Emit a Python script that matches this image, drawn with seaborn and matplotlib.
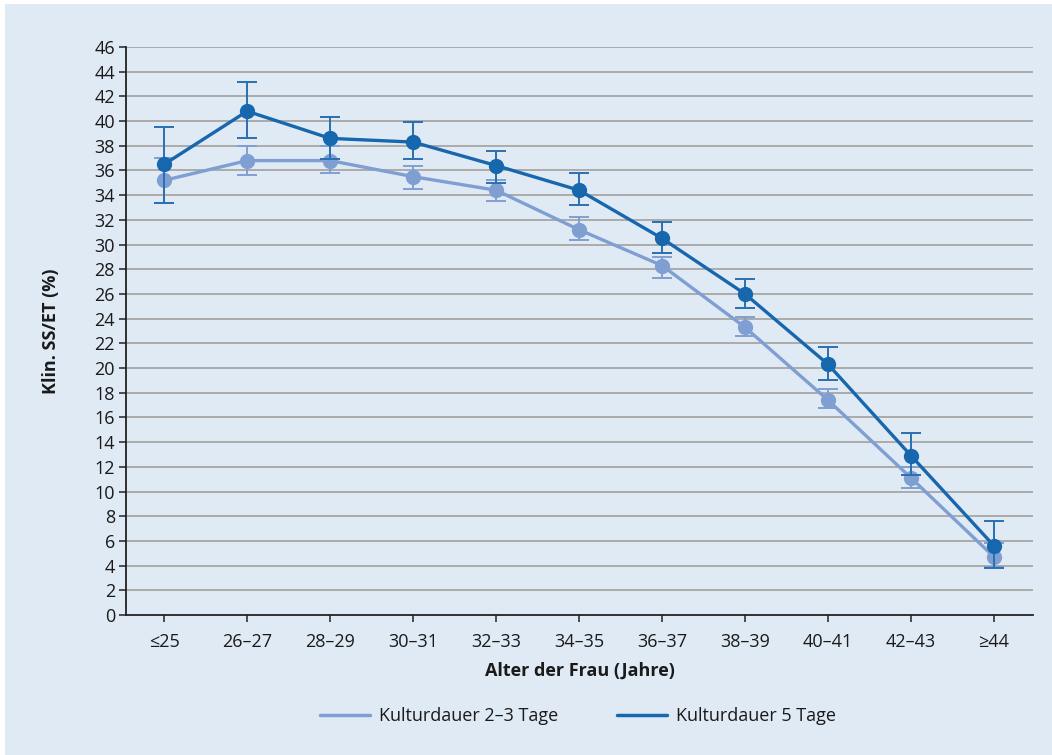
import numpy as np
import pandas as pd
import matplotlib
matplotlib.use("Agg")
import matplotlib.pyplot as plt
from matplotlib.lines import Line2D
from matplotlib.patches import Rectangle
import seaborn as sns

# Age groups of the women
age_groups = ["≤25", "26–27", "28–29", "30–31", "32–33", "34–35",
              "36–37", "38–39", "40–41", "42–43", "≥44"]

# Clinical pregnancy rate per embryo transfer (%), culture 2–3 days
rate_short = [35.2, 36.8, 36.8, 35.5, 34.4, 31.2, 28.3, 23.3, 17.4, 11.1, 4.7]
low_short = [33.4, 35.6, 35.8, 34.5, 33.5, 30.4, 27.3, 22.6, 16.8, 10.3, 3.9]
high_short = [37.0, 38.0, 38.0, 36.4, 35.2, 32.2, 29.0, 24.1, 18.3, 12.0, 5.8]

# Clinical pregnancy rate per embryo transfer (%), culture 5 days
rate_long = [36.5, 40.8, 38.6, 38.3, 36.4, 34.4, 30.5, 26.0, 20.3, 12.9, 5.6]
low_long = [33.4, 38.6, 36.9, 36.9, 35.0, 33.2, 29.3, 24.9, 19.0, 11.3, 3.8]
high_long = [39.5, 43.2, 40.3, 39.9, 37.6, 35.8, 31.8, 27.2, 21.7, 14.7, 7.6]

series_names = ["Kulturdauer 2–3 Tage", "Kulturdauer 5 Tage"]
colors = ["#7f9fd3", "#1767ae"]
bar_colors = ["#7f9fd3", "#2a6fb2"]

bg = "#e0eaf4"
font = ["Open Sans", "DejaVu Sans"]
fs = 13

sns.set_theme(style="white")
plt.rcParams["font.family"] = font

pos = np.arange(len(age_groups))
df = pd.concat([
    pd.DataFrame({"pos": pos, "rate": rate_short, "serie": series_names[0]}),
    pd.DataFrame({"pos": pos, "rate": rate_long, "serie": series_names[1]}),
])

fig = plt.figure(figsize=(10.52, 7.55), dpi=100, facecolor="white")
fig.patches.append(Rectangle((5 / 1052, 0), 1, 1 - 4 / 755, transform=fig.transFigure,
                             facecolor=bg, edgecolor="none", zorder=-10))
ax = fig.add_axes([126 / 1052, 1 - 615 / 755, (1033 - 126) / 1052, (615 - 47) / 755])
ax.set_facecolor(bg)

# horizontal grid
for v in range(2, 47, 2):
    ax.axhline(v, color="#ababab", lw=1.4, zorder=0)

lows = [low_short, low_long]
highs = [high_short, high_long]
rates = [rate_short, rate_long]
for i, name in enumerate(series_names):
    r = np.array(rates[i])
    yerr = np.vstack([r - np.array(lows[i]), np.array(highs[i]) - r])
    ax.errorbar(pos, r, yerr=yerr, fmt="none", ecolor=bar_colors[i],
                elinewidth=1.4, capsize=7, capthick=1.4, zorder=2 + 2 * i)
    sns.lineplot(data=df[df["serie"] == name], x="pos", y="rate", ax=ax,
                 color=colors[i], lw=2.4, marker="o", markersize=11,
                 markeredgewidth=0, legend=False, zorder=3 + 2 * i)

ax.set_xlim(-0.46, 10.47)
ax.set_ylim(0, 46)
ax.set_yticks(range(0, 47, 2))
ax.set_xticks(pos)
ax.set_xticklabels(age_groups)
for s in ["top", "right"]:
    ax.spines[s].set_visible(False)
for s in ["left", "bottom"]:
    ax.spines[s].set_color("#222222")
    ax.spines[s].set_linewidth(1.3)
ax.tick_params(axis="both", which="both", direction="out", length=5, width=1.1,
               color="#222222", labelsize=fs, labelcolor="#1a1a1a", pad=3,
               left=True, bottom=True)
ax.tick_params(axis="x", pad=8)

ax.set_xlabel("Alter der Frau (Jahre)", fontsize=fs, fontweight="bold",
              color="#1a1a1a", labelpad=8)
ax.set_ylabel("Klin. SS/ET (%)", fontsize=fs, fontweight="bold",
              color="#1a1a1a")
ax.yaxis.set_label_coords(-(126 - 60) / (1033 - 126), 0.5)

handles = [Line2D([], [], color=c, lw=2.5) for c in colors]
fig.legend(handles, series_names, loc="center", bbox_to_anchor=(578 / 1052, 1 - 716 / 755),
           ncol=2, frameon=False, fontsize=fs, handlelength=2.8, handletextpad=0.5,
           columnspacing=3.2, labelcolor="#1a1a1a")

fig.savefig("out.png", dpi=100, facecolor=fig.get_facecolor())
